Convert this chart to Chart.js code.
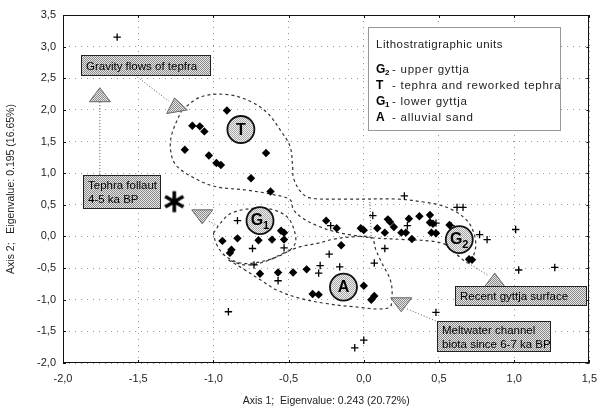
<!DOCTYPE html>
<html>
<head>
<meta charset="utf-8">
<script src="https://cdn.jsdelivr.net/npm/chart.js@4.4.1/dist/chart.umd.min.js"></script>
<style>
  html, body { margin: 0; background: #fff; }
</style>
</head>
<body>
<canvas id="chart" width="606" height="410"></canvas>
<script>
// Tick labels (comma decimals as in the original)
const xTickLabels = ['-2,0', '-1,5', '-1,0', '-0,5', '0,0', '0,5', '1,0', '1,5'];
const yTickLabels = ['-2,0', '-1,5', '-1,0', '-0,5', '0,0', '0,5', '1,0', '1,5', '2,0', '2,5', '3,0', '3,5'];

// Samples
const unitT = [[-0.91, 1.99], [-1.14, 1.75], [-1.09, 1.74], [-1.06, 1.66], [-1.19, 1.37], [-1.03, 1.28],
  [-0.98, 1.16], [-0.95, 1.13], [-0.65, 1.32], [-0.75, 0.92], [-0.62, 0.71]];
const unitG1 = [[-0.94, -0.07], [-0.84, -0.03], [-0.88, -0.21], [-0.89, -0.26], [-0.70, -0.06],
  [-0.61, -0.05], [-0.55, 0.09], [-0.53, 0.06], [-0.53, -0.05]];
const unitA = [[-0.69, -0.59], [-0.57, -0.57], [-0.47, -0.57], [-0.38, -0.52], [-0.34, -0.91],
  [-0.30, -0.92], [-0.15, -0.14], [0.0, -0.78], [0.05, -1.0], [0.07, -0.94]];
const unitG2 = [[-0.25, 0.25], [-0.18, 0.13], [-0.02, 0.13], [0.0, 0.10], [0.09, 0.13], [0.16, 0.27],
  [0.175, 0.23], [0.20, 0.15], [0.14, 0.06], [0.25, 0.06], [0.28, 0.06], [0.30, 0.28], [0.37, 0.32],
  [0.44, 0.34], [0.44, 0.22], [0.46, 0.20], [0.45, 0.06], [0.48, 0.05], [0.57, 0.18], [0.32, -0.04],
  [0.70, -0.36], [0.72, -0.37]];
const otherSamples = [[-1.64, 3.15], [-0.84, 0.25], [-0.74, -0.19], [-0.73, -0.45], [-0.57, -0.70],
  [-0.53, -0.18], [-0.22, 0.17], [-0.23, -0.28], [-0.29, -0.46], [-0.30, -0.58], [-0.16, -0.48],
  [0.06, 0.33], [0.27, 0.64], [0.29, 0.17], [0.48, 0.21], [0.48, 0.05], [0.62, 0.46], [0.66, 0.46],
  [0.77, 0.03], [0.82, -0.05], [1.01, 0.11], [1.03, -0.53], [1.27, -0.49], [0.14, -0.19], [0.07, -0.42],
  [0.48, -1.20], [-0.06, -1.76], [0.0, -1.64], [-0.90, -1.19], [0.58, 0.17]];
const fallout = [[-1.26, 0.55]];

// Dashed group outlines
const outlineT = [[-1.21, 2.0], [-1.08, 2.21], [-0.90, 2.24], [-0.75, 2.13], [-0.64, 1.95], [-0.555, 1.68],
  [-0.49, 1.42], [-0.473, 1.10], [-0.467, 0.92], [-0.42, 0.71], [-0.36, 0.61], [-0.14, 0.59], [0.23, 0.59],
  [0.41, 0.54], [0.50, 0.50], [0.59, 0.42], [0.67, 0.29], [0.72, 0.13], [0.745, -0.11], [0.73, -0.30],
  [0.70, -0.42], [0.64, -0.33], [0.56, -0.15], [0.47, -0.08], [0.28, -0.05], [0.05, -0.02], [-0.10, 0.03],
  [-0.20, 0.08], [-0.30, 0.16], [-0.40, 0.28], [-0.467, 0.42], [-0.49, 0.58], [-0.60, 0.66], [-0.77, 0.73],
  [-0.99, 0.79], [-1.14, 0.94], [-1.25, 1.13], [-1.285, 1.37], [-1.275, 1.63], [-1.21, 2.0]];
const outlineG1 = [[-1.0, 0.05], [-0.95, 0.22], [-0.88, 0.37], [-0.71, 0.45], [-0.60, 0.42], [-0.51, 0.31],
  [-0.467, 0.13], [-0.456, -0.11], [-0.53, -0.27], [-0.685, -0.40], [-0.82, -0.42], [-0.925, -0.30],
  [-0.98, -0.12], [-1.0, 0.05]];
const outlineA = [[-0.90, -0.37], [-0.79, -0.53], [-0.685, -0.69], [-0.576, -0.85], [-0.42, -0.98],
  [-0.25, -1.06], [-0.074, -1.11], [0.166, -1.13], [0.188, -0.95], [0.177, -0.69], [0.12, -0.42],
  [0.08, -0.21], [0.05, -0.02], [-0.096, -0.01], [-0.205, -0.045], [-0.31, -0.11], [-0.42, -0.16],
  [-0.51, -0.24], [-0.66, -0.40], [-0.79, -0.45], [-0.90, -0.37]];
const dividerLine = [[0.04, 0.59], [0.05, -0.05]];

const toXY = arr => arr.map(p => ({x: p[0], y: p[1]}));

// grey dither fill used by the callout boxes
function ditherCanvas(dark, light) {
    const c = document.createElement('canvas');
    c.width = c.height = 2;
    const g = c.getContext('2d');
    g.fillStyle = light; g.fillRect(0, 0, 2, 2);
    g.fillStyle = dark; g.fillRect(0, 0, 1, 1); g.fillRect(1, 1, 1, 1);
    return c;
}
const boxDither = ditherCanvas('#8a8a8a', '#e6e6e6');
const circleDither = ditherCanvas('#a8a8a8', '#f0f0f0');

// six-armed asterisk marker for the tephra fallout sample
const asterisk = (() => {
    const c = document.createElement('canvas');
    c.width = c.height = 24;
    const g = c.getContext('2d');
    g.strokeStyle = '#000';
    g.lineWidth = 3.6;
    g.lineCap = 'butt';
    [90, 30, 150].forEach(d => {
        const r = d * Math.PI / 180;
        g.beginPath();
        g.moveTo(12 - Math.cos(r) * 10.5, 12 - Math.sin(r) * 10.5);
        g.lineTo(12 + Math.cos(r) * 10.5, 12 + Math.sin(r) * 10.5);
        g.stroke();
    });
    return c;
})();

const FONT = '"Liberation Sans", Arial, sans-serif';

// callouts: boxes, arrows and group badges, placed in data units
const callouts = {
    boxes: [
        {x0: -1.88, y0: 2.87, x1: -1.015, y1: 2.535, lines: ['Gravity flows of tepfra']},
        {x0: -1.866, y0: 0.97, x1: -1.349, y1: 0.43, lines: ['Tephra follaut', '4-5 ka BP']},
        {x0: 0.609, y0: -0.78, x1: 1.487, y1: -1.10, lines: ['Recent gyttja surface']},
        {x0: 0.485, y0: -1.335, x1: 1.244, y1: -1.825, lines: ['Meltwater channel', 'biota since 6-7 ka BP']}
    ],
    arrows: [
        {from: [-1.506, 2.52], to: [-1.297, 2.14], head: [-1.25, 2.08], angle: -100},
        {from: [-1.755, 0.97], to: [-1.755, 2.15], head: [-1.755, 2.24], angle: -90},
        {from: [-0.97, 0.17], to: [-1.03, 0.24], head: [-1.074, 0.31], angle: 90},
        {from: [0.68, -0.40], to: [0.83, -0.62], head: [0.871, -0.69], angle: -90},
        {from: [0.478, -1.335], to: [0.288, -1.145], head: [0.249, -1.08], angle: 90}
    ],
    badges: [
        {x: -0.817, y: 1.69, t: 'T'},
        {x: -0.69, y: 0.25, t: 'G', s: '1'},
        {x: -0.135, y: -0.80, t: 'A'},
        {x: 0.635, y: -0.05, t: 'G', s: '2'}
    ]
};

const legendItems = [
    {t: 'G', s: '2', text: '- upper gyttja'},
    {t: 'T', s: '', text: '- tephra and reworked tephra'},
    {t: 'G', s: '1', text: '- lower gyttja'},
    {t: 'A', s: '', text: '- alluvial sand'}
];

const overlay = {
    id: 'overlay',
    afterDatasetsDraw(chart) {
        const {ctx, chartArea: a, scales: {x, y}} = chart;
        const px = v => x.getPixelForValue(v);
        const py = v => y.getPixelForValue(v);
        const boxPat = ctx.createPattern(boxDither, 'repeat');
        const circPat = ctx.createPattern(circleDither, 'repeat');
        ctx.save();

        // plot frame with small inner ticks
        ctx.strokeStyle = '#111';
        ctx.lineWidth = 1;
        ctx.strokeRect(Math.round(a.left) + 0.5, Math.round(a.top) + 0.5, Math.round(a.width) - 1, Math.round(a.height) - 1);
        ctx.beginPath();
        x.ticks.forEach(t => {
            const xx = Math.round(px(t.value)) + 0.5;
            ctx.moveTo(xx, a.bottom); ctx.lineTo(xx, a.bottom - 3);
            ctx.moveTo(xx, a.top); ctx.lineTo(xx, a.top + 3);
        });
        y.ticks.forEach(t => {
            const yy = Math.round(py(t.value)) + 0.5;
            ctx.moveTo(a.left, yy); ctx.lineTo(a.left + 3, yy);
            ctx.moveTo(a.right, yy); ctx.lineTo(a.right - 3, yy);
        });
        ctx.stroke();

        // arrows
        callouts.arrows.forEach(ar => {
            ctx.setLineDash([1, 2]);
            ctx.strokeStyle = '#555';
            ctx.lineWidth = 1;
            ctx.beginPath();
            ctx.moveTo(px(ar.from[0]), py(ar.from[1]));
            ctx.lineTo(px(ar.to[0]), py(ar.to[1]));
            ctx.stroke();
            ctx.setLineDash([]);
            const cx = px(ar.head[0]), cy = py(ar.head[1]);
            const ang = ar.angle * Math.PI / 180;
            const h = 14, b = 10.5;
            const tipX = cx + Math.cos(ang) * h / 2, tipY = cy + Math.sin(ang) * h / 2;
            const bx = cx - Math.cos(ang) * h / 2, by = cy - Math.sin(ang) * h / 2;
            const nx = -Math.sin(ang) * b, ny = Math.cos(ang) * b;
            ctx.beginPath();
            ctx.moveTo(tipX, tipY);
            ctx.lineTo(bx + nx, by + ny);
            ctx.lineTo(bx - nx, by - ny);
            ctx.closePath();
            ctx.fillStyle = boxPat;
            ctx.fill();
            ctx.strokeStyle = '#666';
            ctx.stroke();
        });

        // callout boxes
        ctx.textBaseline = 'middle';
        ctx.textAlign = 'left';
        callouts.boxes.forEach(bx => {
            const l = Math.round(px(bx.x0)), t = Math.round(py(bx.y0));
            const r = Math.round(px(bx.x1)), btm = Math.round(py(bx.y1));
            ctx.fillStyle = boxPat;
            ctx.fillRect(l, t, r - l, btm - t);
            ctx.strokeStyle = '#222';
            ctx.lineWidth = 1;
            ctx.strokeRect(l + 0.5, t + 0.5, r - l - 1, btm - t - 1);
            ctx.fillStyle = '#000';
            ctx.font = '11.5px ' + FONT;
            const lh = 14;
            const start = (t + btm) / 2 - (bx.lines.length - 1) * lh / 2;
            bx.lines.forEach((s, i) => ctx.fillText(s, l + 5, start + i * lh + 1));
        });

        // group badges
        callouts.badges.forEach(bd => {
            const cx = px(bd.x), cy = py(bd.y);
            ctx.beginPath();
            ctx.arc(cx, cy, 13.5, 0, Math.PI * 2);
            ctx.fillStyle = circPat;
            ctx.fill();
            ctx.lineWidth = 1.8;
            ctx.strokeStyle = '#111';
            ctx.stroke();
            ctx.fillStyle = '#000';
            ctx.textAlign = 'center';
            ctx.font = 'bold 16px ' + FONT;
            if (bd.s) {
                ctx.fillText(bd.t, cx - 3, cy);
                ctx.font = 'bold 11px ' + FONT;
                ctx.fillText(bd.s, cx + 6, cy + 5);
            } else {
                ctx.fillText(bd.t, cx, cy + 1);
            }
        });

        // legend box
        const ll = Math.round(px(0.026)), lt = Math.round(py(3.31));
        const lr = Math.round(px(1.31)), lb = Math.round(py(1.665));
        ctx.fillStyle = '#fff';
        ctx.fillRect(ll, lt, lr - ll, lb - lt);
        ctx.setLineDash([1, 1]);
        ctx.strokeStyle = '#333';
        ctx.lineWidth = 1;
        ctx.strokeRect(ll + 0.5, lt + 0.5, lr - ll - 1, lb - lt - 1);
        ctx.setLineDash([]);
        ctx.textAlign = 'left';
        ctx.fillStyle = '#222';
        ctx.font = '11.5px ' + FONT;
        ctx.letterSpacing = '0.5px';
        ctx.fillText('Lithostratigraphic units', ll + 8, lt + 18);
        legendItems.forEach((it, i) => {
            const yy = lt + 43 + i * 16;
            ctx.letterSpacing = '0px';
            ctx.fillStyle = '#000';
            ctx.font = 'bold 12px ' + FONT;
            ctx.fillText(it.t, ll + 8, yy);
            if (it.s) {
                ctx.font = 'bold 8px ' + FONT;
                ctx.fillText(it.s, ll + 17, yy + 3);
            }
            ctx.fillStyle = '#222';
            ctx.font = '11.5px ' + FONT;
            ctx.letterSpacing = '0.75px';
            ctx.fillText(it.text, ll + 24, yy);
        });
        ctx.letterSpacing = '0px';
        ctx.restore();
    }
};

const diamond = (data) => ({
    data: toXY(data), pointStyle: 'rectRot', pointRadius: 4.2,
    backgroundColor: '#000', borderColor: '#000', borderWidth: 0, order: 0
});
const outline = (data) => ({
    data: toXY(data), showLine: true, pointRadius: 0, borderColor: '#333', borderWidth: 1.2,
    borderDash: [3, 3], tension: 0.35, fill: false, order: 10
});

new Chart(document.getElementById('chart'), {
    type: 'scatter',
    data: {
        datasets: [
            diamond(unitT), diamond(unitG1), diamond(unitA), diamond(unitG2),
            {data: toXY(otherSamples), pointStyle: 'cross', pointRadius: 3.7, borderColor: '#000', borderWidth: 1.3, order: 0},
            {data: toXY(fallout), pointStyle: asterisk, order: 0},
            outline(outlineT), outline(outlineG1), outline(outlineA),
            {data: toXY(dividerLine), showLine: true, pointRadius: 0, borderColor: '#555', borderWidth: 1, borderDash: [1, 2], order: 10}
        ]
    },
    options: {
        responsive: false,
        animation: false,
        layout: {padding: {top: 15, right: 9, left: 0, bottom: 0}},
        plugins: {legend: {display: false}, tooltip: {enabled: false}},
        scales: {
            x: {
                type: 'linear', min: -2, max: 1.5,
                afterFit: s => { s.height = 47; },
                ticks: {stepSize: 0.5, padding: 9, color: '#222', font: {family: FONT, size: 11},
                    callback: (v, i) => xTickLabels[i]},
                grid: {color: '#9a9a9a', lineWidth: 1, drawTicks: false},
                border: {display: false, dash: [1, 5]},
                title: {display: true, text: 'Axis 1;  Eigenvalue: 0.243 (20.72%)', color: '#222',
                    font: {family: FONT, size: 10.5}, padding: {top: 2, bottom: 3}}
            },
            y: {
                type: 'linear', min: -2, max: 3.5,
                afterFit: s => { s.width = 63; },
                ticks: {stepSize: 0.5, padding: 7, color: '#222', font: {family: FONT, size: 11},
                    callback: (v, i) => yTickLabels[i]},
                grid: {color: '#9a9a9a', lineWidth: 1, drawTicks: false},
                border: {display: false, dash: [1, 5]},
                title: {display: true, text: 'Axis 2;   Eigenvalue: 0.195 (16.65%)', color: '#222',
                    font: {family: FONT, size: 10.5}, padding: {top: 5, bottom: 2}}
            }
        }
    },
    plugins: [overlay]
});
</script>
</body>
</html>
